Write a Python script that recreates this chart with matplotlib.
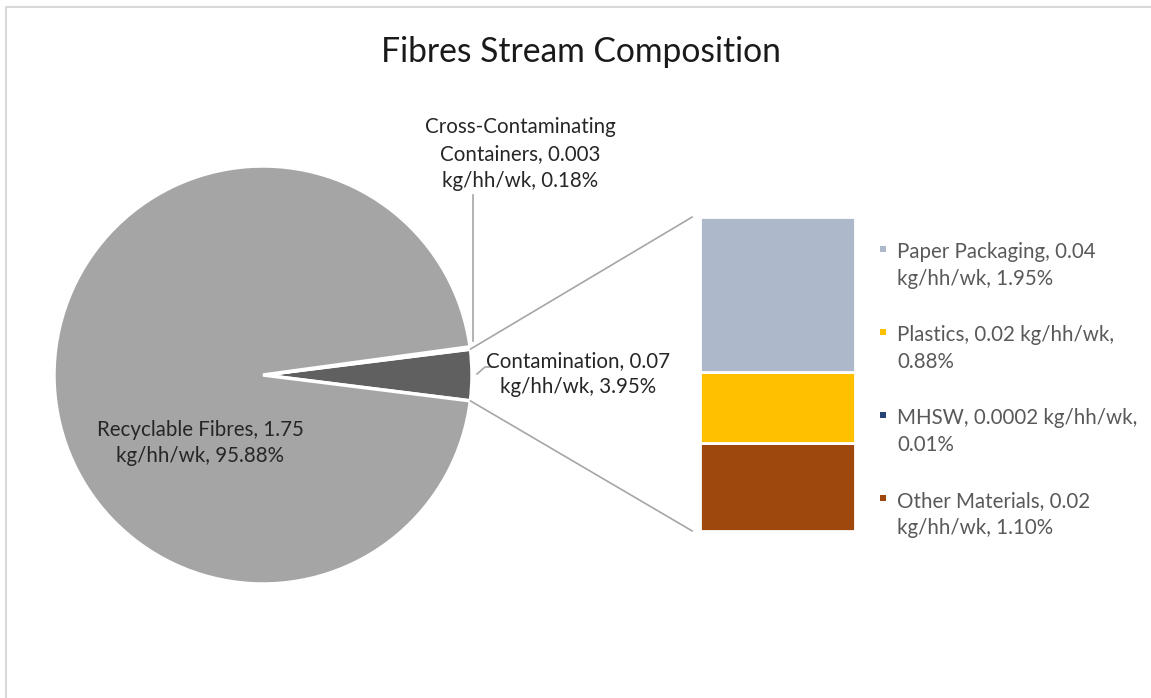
import matplotlib
matplotlib.use('Agg')
import matplotlib.pyplot as plt
from matplotlib.patches import ConnectionPatch
import numpy as np

# Data
pie_labels = ['Contamination', 'Cross-Contaminating Containers', 'Recyclable Fibres']
pie_kg = ['0.07', '0.003', '1.75']
pie_pct = [3.95, 0.18, 95.88]
pie_colors = ['#606060', '#7f7f7f', '#a5a5a5']

bar_labels = ['Paper Packaging', 'Plastics', 'MHSW', 'Other Materials']
bar_kg = ['0.04', '0.02', '0.0002', '0.02']
bar_pct = [1.95, 0.88, 0.01, 1.10]
bar_colors = ['#adb9ca', '#ffc000', '#264478', '#9e480e']

W, H = 1151, 698
plt.rcParams['font.family'] = ['Lato', 'DejaVu Sans']

fig = plt.figure(figsize=(W / 100, H / 100), dpi=100)

# pie: centre (263, 375) px, radius 209 px
cx, cy, r = 263, 375, 209
ax_pie = fig.add_axes([(cx - r) / W, (H - cy - r) / H, 2 * r / W, 2 * r / H])
start = -pie_pct[0] / 100 * 360 / 2
ax_pie.pie(pie_pct, colors=pie_colors, startangle=start, counterclock=True,
           radius=1, wedgeprops=dict(edgecolor='white', linewidth=2.5))
ax_pie.set_xlim(-1, 1)
ax_pie.set_ylim(-1, 1)
ax_pie.axis('off')

# stacked bar for the contamination breakdown
bx0, bx1, by0, by1 = 700, 855, 217, 531
ax_bar = fig.add_axes([bx0 / W, (H - by1) / H, (bx1 - bx0) / W, (by1 - by0) / H])
order = [3, 2, 1, 0]  # bottom to top
bottom = 0
for i in order:
    ax_bar.bar(0, bar_pct[i], bottom=bottom, width=1, color=bar_colors[i],
               edgecolor='white', linewidth=2)
    bottom += bar_pct[i]
total = bottom
ax_bar.set_xlim(-0.5, 0.5)
ax_bar.set_ylim(0, total)
ax_bar.axis('off')

# connector lines pie -> bar
half = np.deg2rad(pie_pct[0] / 100 * 360 / 2)
for sgn, yb in [(1, total), (-1, 0)]:
    con = ConnectionPatch(xyA=(np.cos(half), sgn * np.sin(half)), coordsA=ax_pie.transData,
                          xyB=(-0.55, yb), coordsB=ax_bar.transData,
                          color='#a6a6a6', lw=1.2)
    fig.add_artist(con)

# overlay in pixel coordinates for text / leader lines / frame
ax = fig.add_axes([0, 0, 1, 1])
ax.set_xlim(0, W)
ax.set_ylim(H, 0)
ax.axis('off')

ax.plot([6, 6, W], [H, 7, 7], color='#d9d9d9', lw=1.5)

ax.text(581, 52, 'Fibres Stream Composition', ha='center', va='center',
        fontsize=24.2, color='#1a1a1a')

lab_fs = 14.8
ls = 1.42
txt_col = '#262626'
ax.text(200, 443, f'{pie_labels[2]}, {pie_kg[2]}\nkg/hh/wk, {pie_pct[2]:.2f}%',
        ha='center', va='center', fontsize=lab_fs, color=txt_col, linespacing=ls)
ax.text(578, 374, f'{pie_labels[0]}, {pie_kg[0]}\nkg/hh/wk, {pie_pct[0]:.2f}%',
        ha='center', va='center', fontsize=lab_fs, color=txt_col, linespacing=ls)
ax.text(520, 154, 'Cross-Contaminating\nContainers, ' + pie_kg[1] + f'\nkg/hh/wk, {pie_pct[1]:.2f}%',
        ha='center', va='center', fontsize=lab_fs, color=txt_col, linespacing=ls)

# leader lines
ax.plot([473, 473], [195, 341], color='#a6a6a6', lw=1.2)
ax.plot([477, 485, 495], [374, 367, 367], color='#a6a6a6', lw=1.2)

# legend (marker aligned with first text line, as in the original)
leg_text = [f'{bar_labels[0]}, {bar_kg[0]}\nkg/hh/wk, {bar_pct[0]:.2f}%',
            f'{bar_labels[1]}, {bar_kg[1]} kg/hh/wk,\n{bar_pct[1]:.2f}%',
            f'{bar_labels[2]}, {bar_kg[2]} kg/hh/wk,\n{bar_pct[2]:.2f}%',
            f'{bar_labels[3]}, {bar_kg[3]}\nkg/hh/wk, {bar_pct[3]:.2f}%']
for k in range(4):
    y1 = 252 + 83 * k
    ax.scatter([883], [y1 - 3], marker='s', s=20, color=bar_colors[k], linewidths=0)
    ax.text(897, y1 + 13.5, leg_text[k], ha='left', va='center', fontsize=lab_fs,
            color='#595959', linespacing=ls)

fig.savefig('out.png', dpi=100)
